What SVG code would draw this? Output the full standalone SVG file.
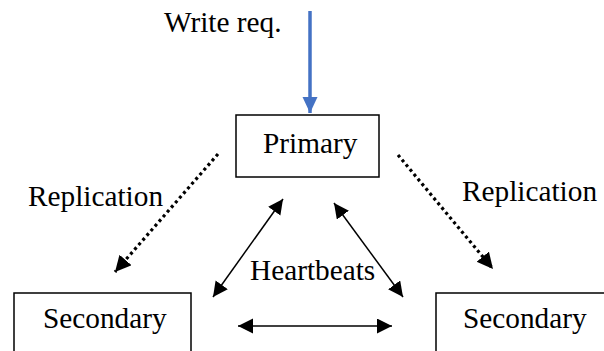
<svg xmlns="http://www.w3.org/2000/svg" width="604" height="351" viewBox="0 0 604 351">
<style>
text{font-family:"Liberation Serif","Times New Roman",serif;font-size:29.3px;fill:#000}
.box{fill:#fff;stroke:#000;stroke-width:1.5}
.hb{stroke:#000;stroke-width:1.5;fill:none}
.rep{stroke:#000;stroke-width:3.2;stroke-dasharray:3 3.2;fill:none}
</style>
<defs>
<marker id="ah" markerUnits="userSpaceOnUse" markerWidth="16" markerHeight="16" refX="15" refY="7.5" orient="auto-start-reverse" viewBox="0 0 16 16">
<path d="M0,0 L15,7.5 L0,15 z" fill="#000"/>
</marker>
<marker id="ahd" markerUnits="userSpaceOnUse" markerWidth="17" markerHeight="17" refX="16" refY="8" orient="auto" viewBox="0 0 17 17">
<path d="M0,0 L16,8 L0,16 z" fill="#000"/>
</marker>
<marker id="ahb" markerUnits="userSpaceOnUse" markerWidth="17" markerHeight="17" refX="16" refY="7.5" orient="auto" viewBox="0 0 17 17">
<path d="M0,0 L16,7.5 L0,15 z" fill="#4472C4"/>
</marker>
</defs>
<g id="primary">
<rect class="box" x="236" y="115" width="143" height="62"/>
<text x="263" y="153">Primary</text>
</g>
<g id="secondary-left">
<rect class="box" x="14" y="293" width="177" height="70"/>
<text x="43" y="328">Secondary</text>
</g>
<g id="secondary-right">
<rect class="box" x="436" y="293" width="190" height="70"/>
<text x="463" y="328">Secondary</text>
</g>
<g id="labels">
<text x="164" y="32">Write req.</text>
<text x="28" y="206">Replication</text>
<text x="462" y="201">Replication</text>
<text x="250" y="280">Heartbeats</text>
</g>
<g id="connectors">
<line x1="310" y1="11" x2="310" y2="113" stroke="#4472C4" stroke-width="3.5" marker-end="url(#ahb)"/>
<line class="rep" x1="218" y1="154" x2="115" y2="272" marker-end="url(#ahd)"/>
<line class="rep" x1="398" y1="155" x2="493" y2="269" marker-end="url(#ahd)"/>
<line class="hb" x1="213" y1="297" x2="283" y2="199" marker-start="url(#ah)" marker-end="url(#ah)"/>
<line class="hb" x1="334" y1="203" x2="403" y2="297" marker-start="url(#ah)" marker-end="url(#ah)"/>
<line class="hb" x1="238" y1="326" x2="392" y2="326" marker-start="url(#ah)" marker-end="url(#ah)"/>
</g>
</svg>
